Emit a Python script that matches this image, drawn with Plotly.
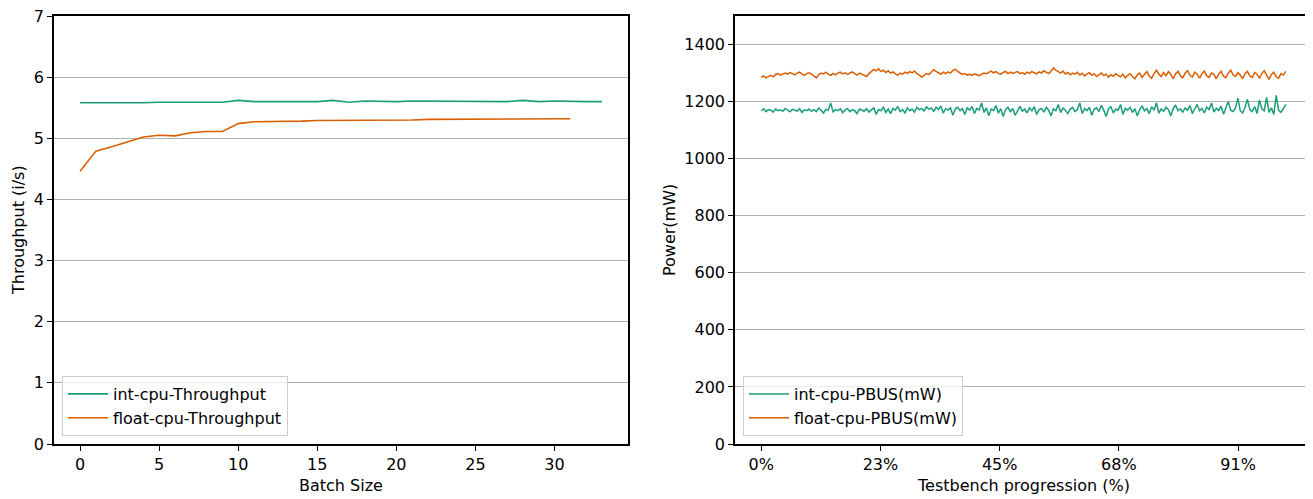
import plotly.graph_objects as go

# ---------------- data: left chart ----------------
batch_int = list(range(34))
int_throughput = [5.58, 5.58, 5.57, 5.58, 5.58, 5.59, 5.59, 5.60, 5.60, 5.59,
                  5.62, 5.60, 5.60, 5.60, 5.61, 5.60, 5.62, 5.59, 5.61, 5.60,
                  5.60, 5.61, 5.61, 5.61, 5.61, 5.60, 5.60, 5.60, 5.62, 5.60,
                  5.61, 5.60, 5.60, 5.60]
batch_float = list(range(32))
float_throughput = [4.46, 4.79, 4.86, 4.94, 5.02, 5.05, 5.04, 5.09, 5.11, 5.11,
                    5.24, 5.27, 5.27, 5.28, 5.28, 5.29, 5.29, 5.29, 5.30, 5.30,
                    5.30, 5.30, 5.31, 5.31, 5.31, 5.31, 5.31, 5.31, 5.32, 5.32,
                    5.32, 5.32]

# ---------------- data: right chart ----------------
float_pbus = [
    1285, 1290, 1283, 1288, 1292, 1287, 1295, 1298, 1293, 1297, 1300, 1296, 1302, 1298, 1294, 1300, 1303, 1297, 1292, 1298, 1301, 1296,
    1290, 1283, 1295, 1300, 1297, 1303, 1296, 1292, 1299, 1294, 1300, 1303, 1297, 1301, 1295, 1299, 1304, 1298, 1293, 1300, 1296, 1290,
    1288, 1298, 1306, 1313, 1308, 1315, 1305, 1310, 1302, 1308, 1300, 1304, 1297, 1292, 1300, 1296, 1303, 1299, 1305, 1301, 1307, 1298,
    1293, 1286, 1292, 1298, 1295, 1302, 1312, 1306, 1300, 1296, 1303, 1298, 1304, 1300, 1309, 1314, 1306, 1301, 1295, 1298, 1293, 1296,
    1292, 1297, 1294, 1291, 1296, 1300, 1298, 1303, 1307, 1301, 1305, 1299, 1296, 1302, 1306, 1298, 1303, 1299, 1301, 1305, 1298, 1302,
    1296, 1303, 1299, 1306, 1301, 1297, 1304, 1300, 1308, 1302, 1298, 1306, 1318, 1310, 1305, 1300, 1307, 1297, 1302, 1294, 1300, 1296,
    1303, 1293, 1299, 1290, 1297, 1301, 1292, 1298, 1288, 1295, 1300, 1291, 1296, 1286, 1294, 1289, 1298, 1292, 1287, 1296, 1283, 1292,
    1298, 1288, 1280, 1294, 1300, 1285, 1295, 1305, 1290, 1282, 1298, 1310, 1296, 1288, 1302, 1291, 1305, 1295, 1280, 1298, 1306, 1290,
    1283, 1300, 1308, 1292, 1286, 1303, 1296, 1282, 1298, 1307, 1290, 1285, 1301, 1295, 1280, 1297, 1306, 1289, 1284, 1300, 1310, 1294,
    1288, 1302, 1293, 1280, 1298, 1306, 1290, 1285, 1302, 1296, 1281, 1299, 1308, 1291, 1278, 1295, 1303, 1287, 1282, 1298, 1293, 1306,
]
int_pbus = [
    1168, 1175, 1165, 1172, 1170, 1163, 1174, 1168, 1171, 1166, 1176, 1169, 1164, 1173, 1170, 1167, 1175, 1162, 1171, 1168, 1174, 1166,
    1172, 1165, 1178, 1168, 1160, 1173, 1170, 1195, 1164, 1172, 1168, 1175, 1161, 1170, 1176, 1165, 1172, 1168, 1158, 1174, 1169, 1166,
    1175, 1163, 1171, 1178, 1155, 1172, 1168, 1180, 1162, 1174, 1158, 1176, 1170, 1183, 1165, 1172, 1160, 1178, 1168, 1174, 1163, 1180,
    1171, 1176, 1168, 1182, 1173, 1178, 1166, 1180, 1172, 1185, 1160, 1175, 1170, 1178, 1152, 1174, 1180, 1168, 1176, 1155, 1178, 1170,
    1183, 1158, 1176, 1170, 1195, 1162, 1178, 1150, 1174, 1169, 1186, 1160, 1175, 1148, 1172, 1180, 1165, 1176, 1152, 1170, 1183, 1166,
    1174, 1160, 1178, 1168, 1182, 1155, 1172, 1176, 1163, 1180, 1170, 1150, 1175, 1168, 1190, 1162, 1177, 1170, 1158, 1174, 1180, 1165,
    1172, 1195, 1158, 1176, 1168, 1180, 1152, 1173, 1178, 1165, 1187, 1170, 1148, 1175, 1182, 1160, 1174, 1169, 1190, 1155, 1176, 1170,
    1180, 1162, 1175, 1150, 1172, 1185, 1168, 1176, 1158, 1182, 1170, 1195, 1160, 1174, 1166, 1180, 1172, 1150, 1176, 1188, 1168, 1175,
    1163, 1178, 1170, 1186, 1158, 1174, 1190, 1168, 1176, 1160, 1181, 1172, 1195, 1163, 1177, 1169, 1184, 1156, 1175, 1200, 1170, 1165,
    1178, 1212, 1168, 1160, 1180, 1208, 1172, 1165, 1183, 1158, 1205, 1175, 1168, 1215, 1162, 1178, 1155, 1222, 1170, 1162, 1175, 1190,
]
progress_ticks = ["0%", "23%", "45%", "68%", "91%"]

n_pts = len(float_pbus)
progress = [i * 100.0 / (n_pts - 1) for i in range(n_pts)]
tick_step = 100.0 / 4.4
progress_tickvals = [k * tick_step for k in range(len(progress_ticks))]

GREEN = "#1b9e77"
ORANGE = "#d95f02"
FONT = "DejaVu Sans"
FS = 16

# page has an 8px body margin; figure is sized to fill the rest of the window
OFF = 8
W, H = 1313 - OFF, 499 - OFF
def px_x(p):
    return (p - OFF) / W
def px_y(p):
    return 1 - (p - OFF) / H

fig = go.Figure()
fig.add_trace(go.Scatter(x=batch_int, y=int_throughput, mode="lines", name="int-cpu-Throughput",
                         line=dict(color=GREEN, width=1.6), xaxis="x", yaxis="y", legend="legend"))
fig.add_trace(go.Scatter(x=batch_float, y=float_throughput, mode="lines", name="float-cpu-Throughput",
                         line=dict(color=ORANGE, width=1.6), xaxis="x", yaxis="y", legend="legend"))
fig.add_trace(go.Scatter(x=progress, y=int_pbus, mode="lines", name="int-cpu-PBUS(mW)",
                         line=dict(color=GREEN, width=1.5), xaxis="x2", yaxis="y2", legend="legend2"))
fig.add_trace(go.Scatter(x=progress, y=float_pbus, mode="lines", name="float-cpu-PBUS(mW)",
                         line=dict(color=ORANGE, width=1.5), xaxis="x2", yaxis="y2", legend="legend2"))

axis_common = dict(showline=True, mirror=True, linecolor="black", linewidth=1.6,
                   ticks="outside", ticklen=5, tickwidth=1.2, tickcolor="black",
                   tickfont=dict(family=FONT, size=FS, color="black"), zeroline=False,
                   automargin=False, ticklabeloverflow="allow")

ydom = [px_y(444), px_y(16)]
legend_common = dict(xanchor="left", yanchor="bottom", itemwidth=40,
                     bgcolor="rgba(255,255,255,0.8)", bordercolor="#cccccc", borderwidth=1,
                     font=dict(family=FONT, size=FS, color="black"), tracegroupgap=0)
fig.update_layout(
    width=W, height=H,
    margin=dict(l=0, r=0, t=0, b=0),
    paper_bgcolor="white", plot_bgcolor="white",
    font=dict(family=FONT, size=FS, color="black"),
    xaxis=dict(domain=[px_x(54), px_x(628)], range=[-1.65, 34.65],
               tickvals=[0, 5, 10, 15, 20, 25, 30], showgrid=False, anchor="y", **axis_common),
    yaxis=dict(domain=ydom, range=[0, 7], tickvals=[0, 1, 2, 3, 4, 5, 6, 7], showgrid=True,
               gridcolor="#b0b0b0", gridwidth=0.8, anchor="x", **axis_common),
    xaxis2=dict(domain=[px_x(735), px_x(1312)], range=[-5, 105],
                tickvals=progress_tickvals, ticktext=progress_ticks, showgrid=False,
                anchor="y2", **axis_common),
    yaxis2=dict(domain=ydom, range=[0, 1500], tickvals=[0, 200, 400, 600, 800, 1000, 1200, 1400],
                showgrid=True, gridcolor="#b0b0b0", gridwidth=0.8, anchor="x2", **axis_common),
    legend=dict(x=px_x(62), y=px_y(436), **legend_common),
    legend2=dict(x=px_x(743), y=px_y(436), **legend_common),
    showlegend=True,
)

annos = [
    dict(text="Batch Size", x=px_x(341), y=px_y(485), xanchor="center", yanchor="middle"),
    dict(text="Testbench progression (%)", x=px_x(1023), y=px_y(485), xanchor="center", yanchor="middle"),
    dict(text="Throughput (i/s)", x=px_x(18), y=px_y(230), xanchor="center", yanchor="middle", textangle=-90),
    dict(text="Power(mW)", x=px_x(669), y=px_y(230), xanchor="center", yanchor="middle", textangle=-90),
]
for a in annos:
    fig.add_annotation(xref="paper", yref="paper", showarrow=False,
                       font=dict(family=FONT, size=FS, color="black"), **a)

fig.write_html("out.html")
